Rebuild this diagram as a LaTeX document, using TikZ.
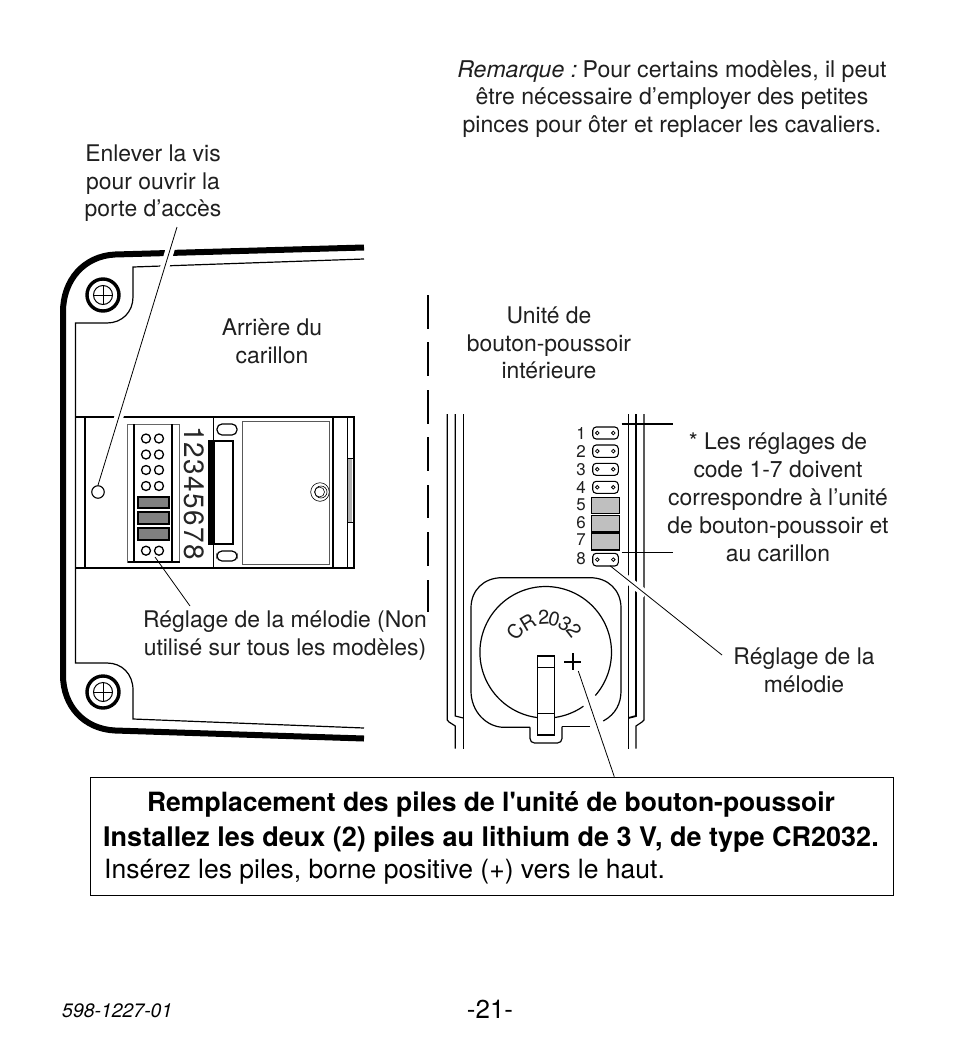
\documentclass[tikz,border=0pt]{standalone}
\usepackage{fontspec}
\setmainfont{TeX Gyre Heros}
\newfontfamily\straightfont{TeX Gyre Heros}
\usetikzlibrary{calc}
\tikzset{
  x=1bp,y=-1bp,
  lbl/.style={font=\fontsize{23}{27.6}\selectfont,align=center,inner sep=0pt,text=black!88},
  boxtxt/.style={font=\fontsize{26.6}{30}\selectfont,inner sep=0pt,anchor=base},
  leader/.style={draw=black,line width=0.8bp},
  halo/.style={draw=white,line width=9bp},
  hairline/.style={draw=black,line width=1bp},
  rail/.style={draw=black,line width=1.2bp},
  housing/.style={draw=black,line width=6bp},
  blockline/.style={draw=black,line width=2.6bp},
  pin/.style={draw=black,line width=1.3bp,fill=white,circle,inner sep=0pt,minimum size=9bp},
  jumperhole/.style={draw=black,line width=.8bp,circle,inner sep=0pt,minimum size=3.6bp},
  darkjumper/.style={draw=black,line width=2bp,fill=black!50},
  lightjumper/.style={draw=black,line width=1.2bp,fill=black!25},
  pill/.style={draw=black,line width=1.1bp,rounded corners=3.5bp},
  digit/.style={font=\fontsize{17}{17}\selectfont,inner sep=0pt,text=black!88},
  celltxt/.style={font=\fontsize{20}{20}\selectfont,inner sep=0pt,text=black!88},
}
\newcommand{\screwmark}[2]{%
  \node[draw=black,line width=3.4bp,circle,minimum size=32bp,inner sep=0pt] (#1) at #2 {};
  \node[draw=black,line width=1bp,circle,minimum size=19bp,inner sep=0pt] (#1i) at #2 {};
  \draw[line width=1bp] (#1i.north) -- (#1i.south) (#1i.west) -- (#1i.east);
}
\begin{document}
\begin{tikzpicture}
\useasboundingbox (0,0) rectangle (954,1050);
\fill[white] (0,0) rectangle (954,1050);

\node[lbl,anchor=north] (vis) at (153,145) {Enlever la vis\\pour ouvrir la\\porte d’accès};
\node[lbl,font=\fontsize{23.15}{27.6}\selectfont] (rem) at (672,99) {\textit{Remarque :\nocorr}\kern-3bp{} Pour certains modèles, il peut\\être nécessaire d’employer des petites\\pinces pour ôter et replacer les cavaliers.};
\node[lbl] (arr) at (272,341.5) {Arrière du\\carillon};
\node[lbl] (unit) at (549,343) {Unité de\\bouton-poussoir\\intérieure};
\node[lbl,font=\fontsize{23}{28.2}\selectfont] (code) at (778,497.5) {* Les réglages de\\code 1-7 doivent\\correspondre à l’unité\\de bouton-poussoir et\\au carillon};
\node[lbl] (mel) at (285,635.5) {Réglage de la mélodie (Non\\utilisé sur tous les modèles)};
\node[lbl] (mel2) at (804,670.5) {Réglage de la\\mélodie};

% housing
\draw[housing] (364,247.5) -- (115,254.5) .. controls (84,256) and (63,280) .. (63,312) -- (63,675)
  .. controls (63,706) and (84,729) .. (115,730.5) -- (364,738.5);
\draw[line width=1.2bp] (364,259) -- (133,267) -- (133,297) .. controls (133,312) and (122,323) .. (107,323) -- (75.5,323) -- (75.5,663) -- (107,663)
  .. controls (122,663) and (133,674) .. (133,690) -- (133,719) -- (364,728);
\screwmark{s1}{(103,295)}
\screwmark{s2}{(103,692)}

% block
\draw[blockline] (76,417) -- (354,417) -- (354,568) -- (76,568);
\draw[line width=2bp] (85,417) -- (85,568);
\draw[hairline] (213,417) -- (213,568);
\draw[line width=2bp] (333,417) -- (333,568);
\draw[hairline] (347,417) -- (347,568);
\fill[black!30] (348,458) rectangle (352,522);
\draw[hairline] (347,458) -- (353,458) (347,522) -- (353,522);

% connector
\draw[draw=black!60,line width=1bp] (127.5,424) rectangle (179.5,562);
\draw[line width=2bp] (133.5,424) -- (133.5,562) (171.5,424) -- (171.5,562);
\draw[line width=2bp] (127.5,562) -- (179.5,562);
\foreach \n/\y in {a/438.5,b/454.5,c/470,d/486,h/550.7}{
  \node[pin] (p\n1) at (146,\y) {};
  \node[pin] (p\n2) at (159,\y) {};
}
\foreach \a/\b in {496.7/508.3,512.3/524,528.3/540.3}
  \draw[darkjumper] (137.5,\a) rectangle (169.3,\b);
\node[inner sep=0pt,rotate=-90,text=black!85,font=\fontsize{28}{28}\selectfont\addfontfeature{LetterSpace=5}] (nums) at (194,493) {12345678};

% slider
\fill[black] (208.3,440) rectangle (215,544.5);
\draw[line width=2.5bp,fill=white] (214,441) rectangle (233,544);
\draw[line width=1.2bp,rounded corners=5bp] (217,424) rectangle (237,435);
\draw[line width=1.2bp,rounded corners=5bp] (217,551) rectangle (237,561);

% panel and its screw
\draw[draw=black!65,line width=1bp,fill=white] (242.7,421.7) rectangle (329.3,564.3);
\node[draw=black,line width=.6bp,circle,fill=white,minimum size=18.6bp,inner sep=0pt] (sc) at (320,492) {};
\node[draw=black,line width=.6bp,circle,minimum size=12bp,inner sep=0pt] (sc1) at (321,492) {};
\node[draw=black,line width=.6bp,circle,minimum size=10bp,inner sep=0pt] (sc2) at (319.5,492) {};
\node[draw=black,line width=1.1bp,circle,fill=white,minimum size=12.5bp,inner sep=0pt] (hole) at (98,492) {};

% leaders of the left part
\coordinate (v1) at (177,227);
\coordinate (v2) at (155,557);
\coordinate (v3) at (190,606);
\begin{scope}
\clip (150,245) rectangle (190,270) (110,410) rectangle (130,420);
\draw[halo] (v1) -- (hole.north);
\end{scope}
\draw[leader] (v1) -- (hole.north);
\draw[leader] (v2) -- (v3);

% divider
\draw[line width=2.6bp] (428,295) -- (428,329) (428,342) -- (428,376)
 (428,390) -- (428,424) (428,437) -- (428,471) (428,485) -- (428,518)
 (428,532) -- (428,566) (428,580) -- (428,612);

% rails
\draw[rail] (447.3,414) -- (447.3,720) -- (449,722) -- (455.3,726) -- (455.3,748.5);
\draw[rail] (455.3,414) -- (455.3,716) -- (463.3,718);
\draw[rail] (463.3,414) -- (463.3,748.5);
\draw[rail] (644,414) -- (644,720) -- (642,722) -- (636,726) -- (636,748.5);
\draw[rail,line width=1.8bp] (636,414) -- (636,716) -- (628.3,718);
\draw[rail] (628.3,414) -- (628.3,748.5);

% jumpers
\foreach \n/\a/\b in {1/427/439,2/445/457.3,3/463.3/475.3,4/481.3/493.3,8/553.3/566}{
  \draw[pill] (592.7,\a) rectangle (618.3,\b);
  \node[jumperhole] (ja\n) at (597.3,{(\a+\b)/2}) {};
  \node[jumperhole] (jb\n) at (613.3,{(\a+\b)/2}) {};
}
\foreach \a/\b in {497.7/513.7,515.3/532,533.3/550}
  \draw[lightjumper] (591.7,\a) rectangle (619.3,\b);
\draw[line width=2bp] (591.7,532.5) -- (619.3,532.5) (591.7,550) -- (619.3,550);
\foreach \t/\y in {1/433,2/451.7,3/469.3,4/487.3,5/505,6/523,7/540,8/559}
  \node[digit] (d\t) at (581,\y) {\t};
\coordinate (h1a) at (621.7,424); \coordinate (h1b) at (673,424);
\coordinate (h2a) at (621.7,552); \coordinate (h2b) at (673,552);
\draw[line width=2bp] (h1a) -- (h1b);
\draw[hairline] (h2a) -- (h2b);

% leader to melody label
\coordinate (m1) at (610,565.7);
\coordinate (m2) at (722,655);
\draw[draw=white,line width=8bp] ($(m1)!0.13!(m2)$) -- ($(m1)!0.32!(m2)$);
\draw[leader] (m1) -- (m2);

% battery holder
\draw[line width=1.2bp] (603.3,721) .. controls (616,714) and (621,703) .. (621,691) -- (621,608)
  .. controls (621,590) and (608,577.7) .. (590,577.7) -- (502,577.7)
  .. controls (484,577.7) and (471,590) .. (471,608) -- (471,691)
  .. controls (471,712) and (487,727.3) .. (504,727.3) -- (530,727.3);
\draw[line width=1.2bp,rounded corners=4.5bp] (530,727.3) -- (530,743) -- (562,743) -- (562,726.7);
\draw[line width=1.2bp] (562,726.7) -- (590,726.7);

% cell
\draw[line width=1.2bp] plot[domain=41:-263,samples=120] ({545.7+65.8*cos(\x)},{652.3+65.8*sin(\x)});
\draw[line width=1.2bp] plot[domain=55:83,samples=20] ({545.7+65.8*cos(\x)},{652.3+65.8*sin(\x)});
\draw[line width=1.2bp,fill=white] (537.7,656) rectangle (554.3,735);
\draw[line width=1bp] (537.7,667.7) -- (554.3,667.7) (537.7,713.3) -- (554.3,713.3);
\draw[line width=2.4bp] (564.2,661.7) -- (581.2,661.7) (572.7,653.2) -- (572.7,670.2);
\foreach \n/\c/\a/\r in {a/C/-56/36.8,b/R/-31/34.6,c/2/-3/35.3,d/0/14/34.5,e/3/34/34.5,f/2/52/36}
  \node[celltxt,rotate=-\a] (cr\n) at ({545.7+\r*sin(\a)},{652.3-\r*cos(\a)}) {\c};

% box
\node[draw=black,line width=1bp,minimum width=803bp,minimum height=118bp,anchor=north west,inner sep=0pt] (box) at (90,777) {};
\coordinate (q1) at (578.3,671);
\coordinate (q2) at (614.3,776.7);
\draw[leader] (q1) -- (q2);
\node[boxtxt,font=\fontsize{26.6}{30}\selectfont\bfseries] (t1) at (491,811) {Remplacement des piles de l{\straightfont'}unité de bouton-poussoir};
\node[boxtxt,font=\fontsize{27.1}{30}\selectfont\bfseries] (t2) at (491,846) {Installez les deux (2) piles au lithium de 3 V, de type CR2032.};
\node[boxtxt,anchor=base west] (t3) at (104,878) {Insérez les piles, borne positive (+) vers le haut.};

% footer
\node[inner sep=0pt,font=\fontsize{19.5}{20}\selectfont\itshape,anchor=base west] (ref) at (62,1017) {598-1227-01};
\node[inner sep=0pt,font=\fontsize{26}{26}\selectfont,anchor=base] (page) at (490,1018) {-21-};
\end{tikzpicture}
\end{document}
